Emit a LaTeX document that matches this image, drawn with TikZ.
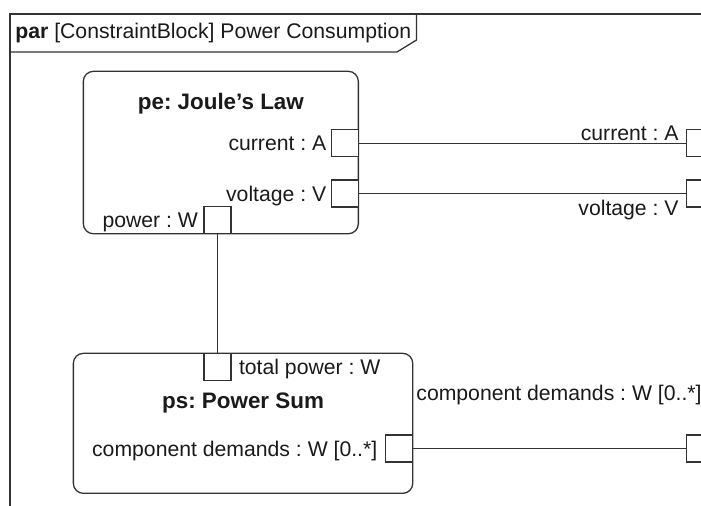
\documentclass[tikz,border=0pt]{standalone}
\usepackage{fontspec}
\setmainfont{Liberation Sans}
\usepackage{xcolor}
\definecolor{ink}{HTML}{1A1A1A}
\definecolor{edge}{HTML}{333333}
\usetikzlibrary{positioning}
\frenchspacing
\tikzset{
  blk/.style  ={draw=edge,line width=0.65pt,rounded corners=5pt,
                anchor=north west,inner sep=0pt},
  port/.style ={draw=edge,fill=white,line width=0.65pt,
                minimum size=13.5pt,inner sep=0pt},
  lbl/.style  ={text=ink,inner sep=0pt,text height=7.6pt,text depth=0pt},
  ttl/.style  ={lbl,font=\fontsize{11.2}{13.4}\selectfont\bfseries,text height=8pt},
  wire/.style ={draw=edge,line width=0.65pt},
}

\begin{document}
\begin{tikzpicture}[x=0.5pt,y=-0.5pt,font=\fontsize{10.6}{12.7}\selectfont]
\useasboundingbox (0,0) rectangle (701,506);
\clip (0,0) rectangle (701,506);
% ---- diagram frame
\draw[wire] (10,540) -- (10,14) -- (740,14);
\draw[wire] (10,52) -- (397,52) -- (416.5,40) -- (416.5,14);
\node[lbl,anchor=west] (frm) at (15,30.5) {\textbf{par} [ConstraintBlock] Power Consumption};

% ---- constraint property pe
\node[blk,minimum width=137.5pt,minimum height=81.2pt] (pe) at (82.7,70.7) {};
\node[ttl,below=11pt of pe.north] (peN) {pe: Joule’s Law};
\node[port,anchor=east] (peI) at (pe.east|-0,143.3) {};
\node[port,anchor=east] (peV) at (pe.east|-0,193.5) {};
\node[port,anchor=south] (peW) at (pe.south-|217.5,0) {};
\node[lbl,left=2pt of peI] (peIl) {current : A};
\node[lbl,left=2pt of peV] (peVl) {voltage : V};
\node[lbl,left=2.5pt of peW] (peWl) {power : W};

% ---- constraint property ps
\node[blk,minimum width=169.7pt,minimum height=70pt] (ps) at (72.7,352.7) {};
\node[ttl,below=19.6pt of ps.north] (psN) {ps: Power Sum};
\node[port,anchor=north] (psT) at (ps.north-|217.5,0) {};
\node[port,anchor=east] (psD) at (ps.east|-0,448.5) {};
\node[lbl,right=3.5pt of psT] (psTl) {total power : W};
\node[lbl,left=3.7pt of psD] (psDl) {component demands : W [0..*]};

% ---- boundary ports
\node[port,anchor=west] (bI) at (686,143.3) {};
\node[port,anchor=west] (bV) at (686,193.5) {};
\node[port,anchor=west] (bD) at (686,448.5) {};
\node[lbl,anchor=east] (bIl) at (679,133) {current : A};
\node[lbl,anchor=east] (bVl) at (679,207.5) {voltage : V};
\node[lbl,anchor=west] (bDl) at (416,393) {component demands : W [0..*]};

% ---- binding connectors
\foreach \a/\b in {peI/bI, peV/bV, peW/psT, psD/bD} \draw[wire] (\a) -- (\b);
\end{tikzpicture}
\end{document}
